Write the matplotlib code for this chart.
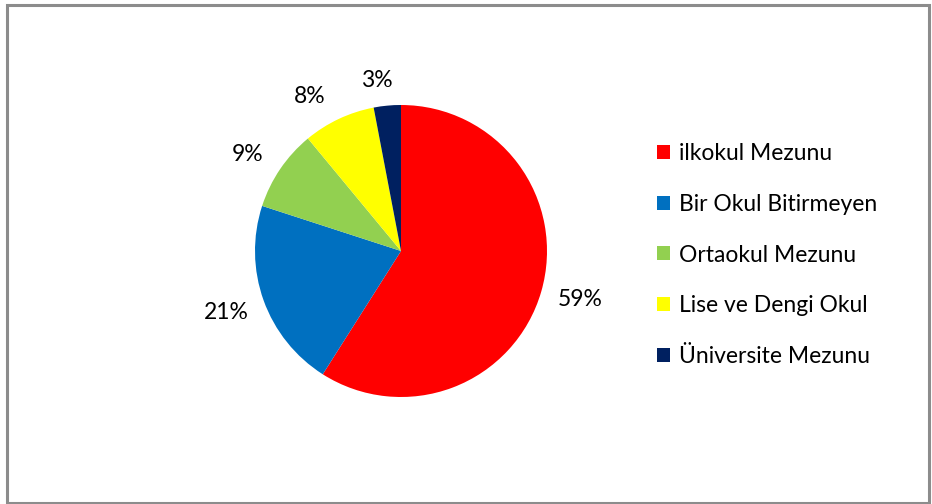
import numpy as np
import matplotlib.pyplot as plt
from matplotlib.patches import Rectangle, Patch

plt.rcParams['font.family'] = ['Lato', 'DejaVu Sans']

labels = ['ilkokul Mezunu', 'Bir Okul Bitirmeyen', 'Ortaokul Mezunu',
          'Lise ve Dengi Okul', 'Üniversite Mezunu']
values = [59, 21, 9, 8, 3]
colors = ['#FF0000', '#0070C0', '#92D050', '#FFFF00', '#002060']

W, H = 932, 504
fig = plt.figure(figsize=(W / 100, H / 100), dpi=100)

# chart frame
fig.patches.append(Rectangle((7 / W, 1.5 / H), (929 - 7) / W, (499 - 1.5) / H,
                             transform=fig.transFigure, fill=False,
                             edgecolor='#8c8c8c', linewidth=2.2))

cx, cy, r = 401, 251, 146
ax = fig.add_axes([(cx - r) / W, (H - cy - r) / H, 2 * r / W, 2 * r / H])
wedges, texts = ax.pie(values, colors=colors, startangle=90,
                       counterclock=False, radius=1)
ax.set_xlim(-1, 1)
ax.set_ylim(-1, 1)
ax.set_aspect('equal')
ax.axis('off')

# percentage labels placed outside like Excel's best fit
dist = [1.27, 1.27, 1.24, 1.23, 1.18]
shift = [0.9, -0.3, 2.1, 5.5, 2.6]
total = sum(values)
for w, v, d, s in zip(wedges, values, dist, shift):
    a = np.deg2rad((w.theta1 + w.theta2) / 2 + s)
    ax.text(d * np.cos(a), d * np.sin(a), f'{round(100 * v / total)}%',
            ha='center', va='center', fontsize=16.5, clip_on=False)

handles = [Patch(facecolor=c, edgecolor='none') for c in colors]
fig.legend(handles, labels, loc='center left',
           bbox_to_anchor=(646 / W, (H - 255) / H), frameon=False,
           fontsize=16.5, handlelength=0.55, handleheight=0.55,
           handletextpad=0.4, labelspacing=1.3, borderpad=0)

plt.savefig('out.png', dpi=100)
